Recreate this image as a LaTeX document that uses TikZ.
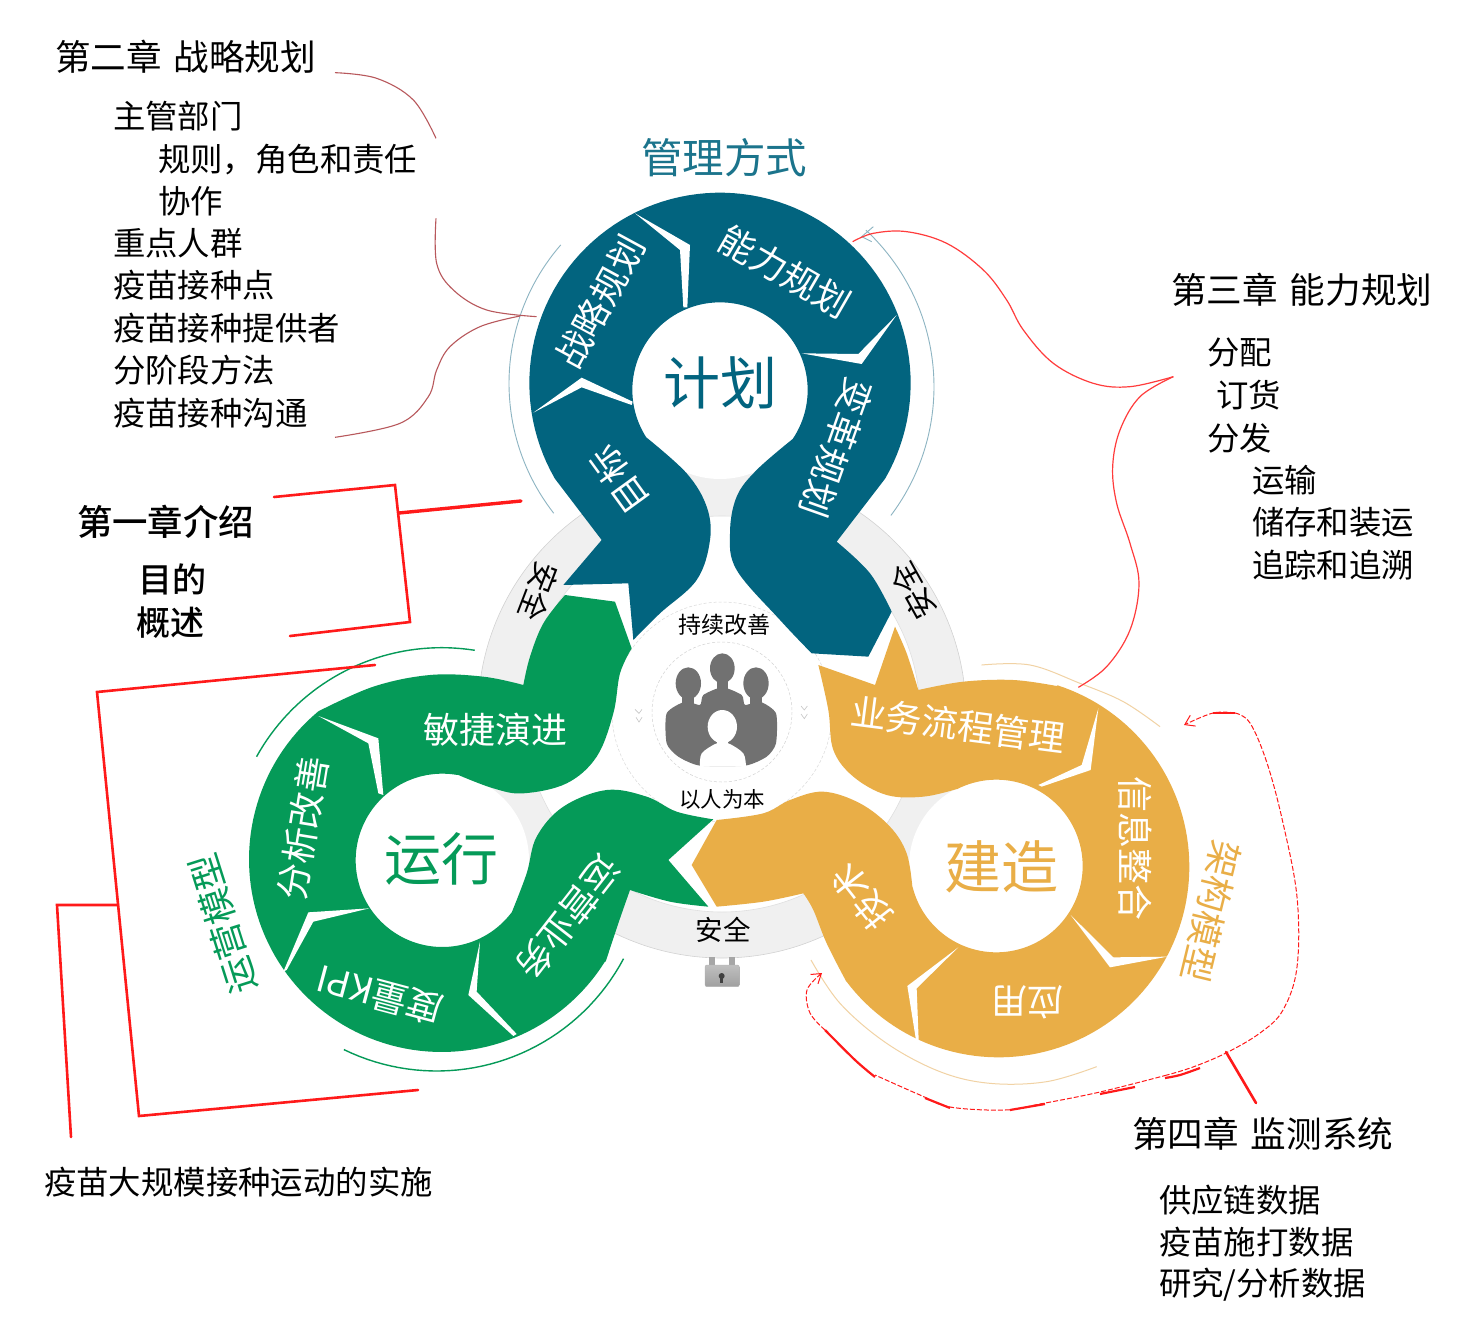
\documentclass[tikz,border=0pt]{standalone}
\usepackage{fontspec}
\setmainfont{Noto Sans CJK SC}
\newfontfamily\medfont{Noto Sans CJK SC}[UprightFont=* Medium]
\usetikzlibrary{arrows.meta}
\newcommand\fs[1]{\fontsize{#1}{#1}\selectfont}
\definecolor{plan}{HTML}{02647F}
\definecolor{run}{HTML}{059A58}
\definecolor{build}{HTML}{E9AE47}
\definecolor{ringgray}{HTML}{F0F0F0}
\definecolor{icon}{HTML}{717171}
\definecolor{thinplan}{HTML}{8DB4C2}
\definecolor{thinbuild}{HTML}{F1D2A4}
\definecolor{brace}{HTML}{B8585C}
\definecolor{annot}{HTML}{FF1A1A}
\tikzset{
  lbl/.style={inner sep=0pt,outer sep=0pt},
  wl/.style={lbl,text=white,font=\fs{36}},
  blk/.style={lbl,text=black,anchor=west,font=\fs{32.4}},
  head/.style={lbl,text=black,anchor=west,font=\fs{35.6}},
  bracket/.style={draw=annot,line width=2.6pt,line cap=round,line join=miter},
  sepw/.style={fill=white,draw=none},
  curvy/.style={draw=annot!85!white,line width=1.2pt},
  dash1/.style={draw=annot,line width=1pt,dash pattern=on 5pt off 2pt},
  dash2/.style={draw=annot,line width=2.2pt},
  soft/.style={smooth,tension=.6},
}
\begin{document}
\begin{tikzpicture}[x=1pt,y=-1pt]
\useasboundingbox (0,0) rectangle (1461,1343);
\fill[white] (0,0) rectangle (1461,1343);

% grey ring
\fill[ringgray,even odd rule] (722,714) circle[radius=244] (722,714) circle[radius=198];
\draw[gray!35,line width=.6pt] (722,714) circle[radius=244];
\draw[gray!25,line width=.6pt] (722,714) circle[radius=198];
% discs
\fill[white] (720,390) circle[radius=89];
\fill[white] (442,860) circle[radius=87];
\fill[white] (996,866) circle[radius=87];
% inner dashed circles
\draw[gray!30,line width=.5pt,densely dashed] (722,712) circle[radius=110];
\draw[gray!35,line width=.5pt,densely dashed] (722,712) circle[radius=70];

% BLUE
\begin{scope}[shift={(480,180)},x=.33333pt,y=-.33333pt]
\fill[plan] (250,1215) -- (365,1080)
 -- plot[domain=150:390,samples=90] ({720+572*cos(\x)},{610+572*sin(\x)})
 -- (1070,1085)
 -- plot[soft] coordinates {(1070,1085)(1170,1180)(1235,1295)}
 -- (1165,1430) -- (995,1420)
 -- plot[soft] coordinates {(995,1420)(900,1320)(770,1170)(750,1060)(770,950)(830,870)(938,777)}
 -- plot[domain=34:-213,samples=90] ({720+263*cos(\x)},{630+263*sin(\x)})
 -- plot[soft] coordinates {(500,773)(620,880)(680,980)(690,1080)(650,1200)(540,1300)(460,1380)}
 -- (445,1210) -- cycle;
\fill[sepw] (465,100) -- (630,195) -- (622,382) -- (610,382) -- (600,210) -- cycle;
\fill[sepw] (965,520) -- (1135,522) -- (1250,405) -- (1145,552) -- cycle;
\fill[sepw] (160,698) -- (305,593) -- (458,665) -- (455,675) -- (305,622) -- cycle;
\draw[thinplan,line width=.9pt] plot[domain=221:142,samples=50] ({720+633*cos(\x)},{610+633*sin(\x)});
\draw[thinplan,line width=.9pt] plot[domain=-47:37,samples=50] ({720+642*cos(\x)},{620+642*sin(\x)});
\draw[thinplan,line width=.9pt] (1180,140) -- (1145,170) -- (1175,185);
\end{scope}

% GREEN
\begin{scope}[shift={(230,580)},x=.33333pt,y=-.33333pt]
\fill[run] (1005,45) -- (1155,65) -- (1205,205)
 -- plot[soft] coordinates {(1205,205)(1170,280)(1150,400)(1100,530)(1010,610)(880,640)(790,625)(685,585)}
 -- plot[domain=279:37,samples=90] ({637+260*cos(\x)},{841+260*sin(\x)})
 -- plot[soft] coordinates {(845,998)(890,880)(920,770)(1000,680)(1130,630)(1250,650)(1340,695)(1450,718)}
 -- (1315,840) -- (1435,980)
 -- plot[soft] coordinates {(1435,980)(1320,965)(1200,930)}
 -- plot[soft] coordinates {(1200,930)(1165,1030)(1127,1145)}
 -- plot[domain=32:230,samples=90] ({635+578*cos(\x)},{838+578*sin(\x)})
 -- plot[soft] coordinates {(263,395)(430,320)(600,285)(760,290)(880,315)}
 -- plot[soft] coordinates {(880,315)(900,230)(940,130)(1005,45)} -- cycle;
\fill[sepw] (265,408) -- (445,475) -- (460,645) -- (445,640) -- (415,490) -- cycle;
\fill[sepw] (418,985) -- (235,997) -- (160,1175) -- (170,1170) -- (250,1025) -- cycle;
\fill[sepw] (750,1085) -- (715,1245) -- (850,1368) -- (860,1362) -- (740,1235) -- cycle;
\draw[run,line width=1.4pt] plot[domain=209:279,samples=40] ({635+635*cos(\x)},{838+635*sin(\x)});
\draw[run,line width=1.4pt] plot[domain=116:28,samples=40] ({620+635*cos(\x)},{838+635*sin(\x)});
\end{scope}

% YELLOW
\begin{scope}[shift={(680,610)},x=.33333pt,y=-.33333pt]
\fill[build] (645,50)
 -- plot[soft] coordinates {(645,50)(680,130)(715,240)}
 -- plot[soft] coordinates {(715,240)(850,215)(1000,210)(1130,228)}
 -- plot[domain=288:503,samples=100] ({956+572*cos(\x)},{770+572*sin(\x)})
 -- plot[soft] coordinates {(499,1115)(440,1000)(400,900)(370,850)}
 -- plot[soft] coordinates {(370,850)(250,875)(110,890)}
 -- (35,765) -- (110,630)
 -- plot[soft] coordinates {(110,630)(250,610)(330,570)(430,545)(540,580)(630,650)(680,730)(697,830)}
 -- plot[domain=166:-117,samples=100] ({949+259*cos(\x)},{768+259*sin(\x)})
 -- plot[soft] coordinates {(831,537)(730,560)(620,555)(520,500)(460,420)(445,300)(415,165)}
 -- (585,225) -- cycle;
\fill[sepw] (1255,295) -- (1232,480) -- (1085,530) -- (1075,525) -- (1205,465) -- cycle;
\fill[sepw] (1172,915) -- (1300,1042) -- (1462,1040) -- (1290,1072) -- cycle;
\fill[sepw] (835,1012) -- (682,1128) -- (708,1290) -- (716,1290) -- (710,1135) -- cycle;
\draw[thinbuild,line width=1pt] plot[soft] coordinates {(905,165)(1050,165)(1200,220)(1330,275)(1440,350)};
\draw[thinbuild,line width=1pt] plot[soft] coordinates {(393,1050)(480,1180)(620,1300)(780,1385)(930,1420)(1100,1415)(1250,1370)};
% padlock
\fill[gray!70] (88,1040) rectangle (104,1070);
\fill[gray!70] (148,1040) rectangle (164,1070);
\shade[rounded corners=2pt,top color=gray!50,bottom color=gray!75,draw=gray!60] (75,1065) rectangle (178,1130);
\fill[black!75] (125,1098) circle[radius=9];
\fill[black!75] (121,1098) rectangle (129,1118);
\end{scope}

% people icon
\begin{scope}[shift={(620,600)},x=.33333pt,y=-.33333pt]
\fill[icon] (205,250) ellipse[x radius=38,y radius=48];
\fill[icon] (307,205) ellipse[x radius=37,y radius=45];
\fill[icon] (408,250) ellipse[x radius=38,y radius=48];
\fill[icon] (187,280) rectangle (223,320);
\fill[icon] (290,235) rectangle (324,275);
\fill[icon] (390,280) rectangle (426,320);
\fill[icon] plot[smooth cycle,tension=.4] coordinates {(140,340)(195,305)(240,315)(250,285)(307,262)(365,285)(375,315)(420,305)(468,340)(468,430)(440,470)(375,497)(240,497)(175,470)(140,430)};
\fill[white] (307,380) ellipse[x radius=44,y radius=50];
\fill[white] (290,415) rectangle (325,440);
\fill[white] plot[smooth,tension=.5] coordinates {(240,500)(245,460)(290,430)(325,430)(370,460)(378,500)};
\draw[gray!45,line width=.6pt] (45,328) -- (57,340) -- (66,328) (48,352) -- (57,366) -- (66,352);
\draw[gray!45,line width=.6pt] (543,318) -- (553,330) -- (562,318) (543,342) -- (553,356) -- (562,342);
\end{scope}

% centre labels
\node[lbl,text=plan,font=\fs{57}] (tplan) at (720,383) {计划};
\node[lbl,text=run,font=\fs{57}] (trun) at (441,859) {运行};
\node[lbl,text=build,font=\fs{57}] (tbuild) at (1001,867) {建造};
\node[lbl,text=plan!90!white,font=\fs{41.5}] (tmode) at (724,158) {管理方式};

% plan labels
\node[wl,rotate=61.5] (a1) at (600,302) {战略规划};
\node[wl,rotate=-30] (a2) at (785,272) {能力规划};
\node[wl,rotate=-109.5] (a3) at (837,448) {变革规划};
\node[wl,rotate=126] (a4) at (619,480) {目标};
% run labels
\node[wl] (b1) at (495,730) {敏捷演进};
\node[wl,rotate=80.7] (b2) at (303,828) {分析改善};
\node[wl,rotate=165] (b3) at (380,995) {度量KPI};
\node[wl,rotate=-128] (b4) at (568,918) {运营业务};
\node[lbl,text=run,font=\fs{36},rotate=107.6] (b5) at (223,924) {运营模型};
% build labels
\node[wl,rotate=-7.4] (c1) at (958,725) {业务流程管理};
\node[wl,rotate=-90] (c2) at (1135,848) {信息整合};
\node[wl,rotate=180] (c3) at (1027,1002) {应用};
\node[wl,rotate=128] (c4) at (862,897) {技术};
\node[lbl,text=build,font=\fs{36},rotate=-103.6] (c5) at (1211,912) {架构模型};

% ring labels
\node[lbl,font=\fs{30},rotate=-111] (s1) at (539,592) {安全};
\node[lbl,font=\fs{30},rotate=119] (s2) at (913,591) {安全};
\node[lbl,font=\fs{27.5}] (s3) at (723,930) {安全};
\node[lbl,font=\fs{23}] (s4) at (724,625) {持续改善};
\node[lbl,font=\fs{21.5}] (s5) at (722,799) {以人为本};

% chapter two
\node[head] (h2) at (55,57) {第二章\hspace{12pt}战略规划};
\node[blk] (l1) at (113,116) {主管部门};
\node[blk] (l2) at (158,159.5) {规则，角色和责任};
\node[blk] (l3) at (158,201) {协作};
\node[blk] (l4) at (113,243) {重点人群};
\node[blk] (l5) at (113,285) {疫苗接种点};
\node[blk] (l6) at (113,328) {疫苗接种提供者};
\node[blk] (l7) at (113,370) {分阶段方法};
\node[blk] (l8) at (113,413) {疫苗接种沟通};
% chapter one
\node[lbl,anchor=west,font=\fs{35.4}\medfont] (h1) at (77,522) {第一章介绍};
\node[lbl,anchor=west,font=\fs{34}\medfont] (m1) at (138,579) {目的};
\node[lbl,anchor=west,font=\fs{34}\medfont] (m2) at (136,623) {概述};
% chapter three
\node[head] (h3) at (1171,290) {第三章\hspace{12pt}能力规划};
\node[blk] (r1) at (1207,353) {分配};
\node[blk] (r2) at (1216,395) {订货};
\node[blk] (r3) at (1207,438) {分发};
\node[blk] (r4) at (1252,480) {运输};
\node[blk] (r5) at (1252,522) {储存和装运};
\node[blk] (r6) at (1252,565) {追踪和追溯};
% chapter four
\node[head] (h4) at (1132,1134) {第四章\hspace{12pt}监测系统};
\node[blk] (q1) at (1159,1200) {供应链数据};
\node[blk] (q2) at (1159,1242) {疫苗施打数据};
\node[blk] (q3) at (1159,1285) {研究/分析数据};
\node[lbl,anchor=west,font=\fs{32.4}] (impl) at (44,1182) {疫苗大规模接种运动的实施};

% brace for chapter two
\begin{scope}[shift={(40,20)},x=.33333pt,y=-.33333pt]
\draw[brace,line width=1.1pt] plot[soft] coordinates {(885,158)(1010,175)(1120,240)(1188,355)};
\draw[brace,line width=1.1pt] plot[soft] coordinates {(1188,595)(1190,730)(1240,810)(1340,870)(1490,890)};
\draw[brace,line width=1.1pt] plot[soft] coordinates {(1440,888)(1320,920)(1230,980)(1190,1050)(1165,1130)(1080,1210)(885,1252)};
\end{scope}
% brace for chapter three
\begin{scope}[shift={(840,200)},x=.33333pt,y=-.33333pt]
\draw[curvy] plot[soft] coordinates {(38,125)(100,100)(200,95)(320,130)(430,210)(500,300)(550,390)(640,490)(760,550)(870,560)(1000,530)};
\draw[curvy] plot[soft] coordinates {(1000,530)(900,590)(840,690)(818,800)(830,910)(870,1030)(897,1150)(870,1290)(800,1400)(715,1462)};
\end{scope}

% red brackets
\coordinate (ba) at (274,497); \coordinate (bb) at (395,485); \coordinate (bc) at (410,622); \coordinate (bd) at (290,636);
\coordinate (be) at (399,513); \coordinate (bf) at (521,501);
\draw[bracket] (ba) -- (bb) -- (bc) -- (bd);
\draw[bracket,line width=3.4pt] (be) -- (bf);
\coordinate (ca) at (375,665); \coordinate (cb) at (97,692); \coordinate (cc) at (139,1116); \coordinate (cd) at (418,1090);
\coordinate (ce) at (118,905); \coordinate (cf) at (57,905); \coordinate (cg) at (71,1137);
\draw[bracket] (ca) -- (cb) -- (cc) -- (cd);
\draw[bracket] (ce) -- (cf) -- (cg);

% dashed red loop
\draw[dash1,-{Straight Barb[length=9pt,width=12pt]}] plot[soft] coordinates {(1235,713)(1213,713)(1184,725)};
\draw[dash2] (1213,713) -- (1235,713);
\draw[dash1] plot[soft] coordinates {(1235,713)(1250,723)(1267,763)(1283,823)(1297,897)(1297,967)(1283,1010)(1260,1033)(1226,1053)(1193,1067)(1167,1075)};
\draw[dash2] plot[soft] coordinates {(1200,1068)(1180,1075)(1165,1078)};
\draw[dash2] (1135,1087) -- (1100,1094);
\draw[dash2] (1045,1104) -- (1010,1110);
\draw[dash1] plot[soft] coordinates {(1167,1075)(1100,1092)(1040,1104)(1005,1110)(950,1107)(920,1095)(875,1075)};
\draw[dash2] (925,1098) -- (950,1108);
\draw[dash2] plot[soft] coordinates {(875,1077)(855,1060)(825,1030)};
\draw[dash1,-{Straight Barb[length=9pt,width=12pt]}] plot[soft] coordinates {(825,1030)(810,1013)(807,990)(822,973)};
\coordinate (ta) at (1226,1052); \coordinate (tb) at (1256,1103);
\draw[bracket] (ta) -- (tb);
\end{tikzpicture}
\end{document}
